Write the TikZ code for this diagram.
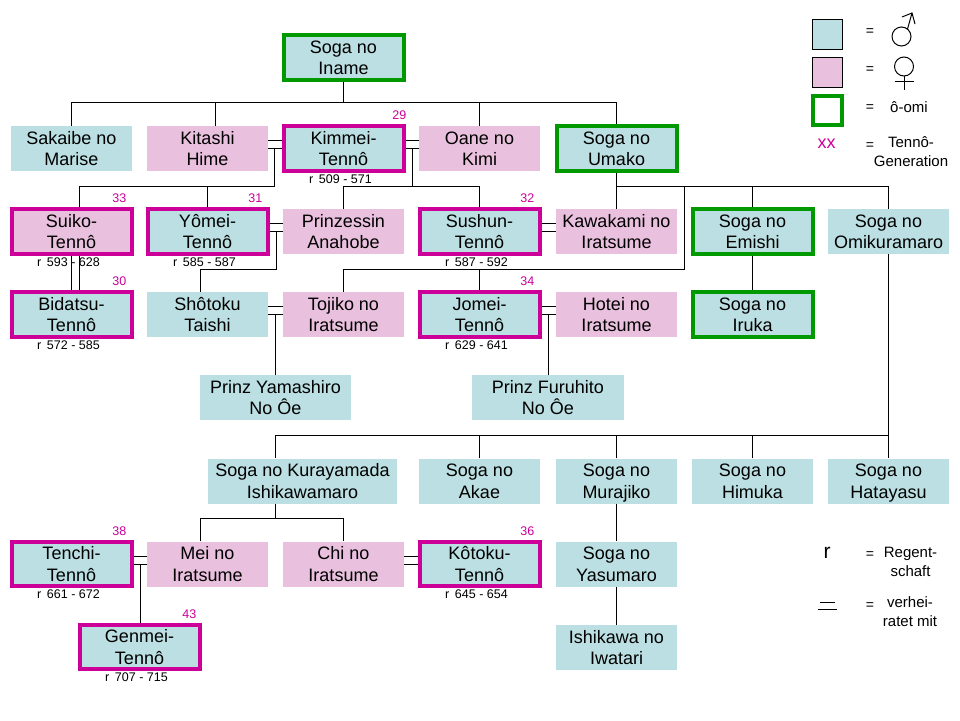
\documentclass[tikz,border=0pt]{standalone}
\usepackage{fontspec}
\setmainfont{Liberation Sans}
\usetikzlibrary{calc}
\definecolor{cy}{RGB}{187,223,226}
\definecolor{pk}{RGB}{233,192,221}
\definecolor{mg}{RGB}{204,0,153}
\definecolor{gn}{RGB}{0,153,0}
\newcommand\wed[2]{%
  \draw[link] ([yshift=8pt]#1.east) -- ([yshift=8pt]#2.west);
  \draw[link] (#1.east) -- (#2.west);}
\begin{document}
\begin{tikzpicture}[x=1pt,y=-1pt,
  every node/.style={inner sep=0pt},
  person/.style={rectangle, align=center, font=\fontsize{18}{21.5}\selectfont,
    text height=34.5pt, text depth=0pt,
    minimum width=121pt, minimum height=45pt},
  male/.style={person, fill=cy},
  female/.style={person, fill=pk},
  tenno/.style={draw=mg, line width=4pt, minimum width=120pt, minimum height=44.5pt},
  omi/.style={draw=gn, line width=4pt, minimum width=120pt, minimum height=44.5pt},
  gen/.style={text=mg, font=\fontsize{12.5}{14}\selectfont, anchor=south east},
  reign/.style={font=\fontsize{12.5}{14}\selectfont, anchor=north},
  link/.style={line width=1pt},
  lgd/.style={font=\fontsize{15}{19}\selectfont, align=center},
  eq/.style={font=\fontsize{14}{16}\selectfont},
  sym/.style={line width=1pt}
]
\useasboundingbox (0,0) rectangle (960,720);

% ---------- persons ----------
\node[male, omi] (iname) at (343.5,57.5) {Soga no\\Iname};

\node[male] (sakaibe) at (71.5,148.5) {Sakaibe no\\Marise};
\node[female] (kitashi) at (207.5,148.5) {Kitashi\\Hime};
\node[male, tenno] (kimmei) at (343.5,148.5) {Kimmei-\\Tennô};
\node[female] (oane) at (479.5,148.5) {Oane no\\Kimi};
\node[male, omi] (umako) at (616.5,148.5) {Soga no\\Umako};

\node[female, tenno] (suiko) at (71.5,231.5) {Suiko-\\Tennô};
\node[male, tenno] (yomei) at (207.5,231.5) {Yômei-\\Tennô};
\node[female] (anahobe) at (343.5,231.5) {Prinzessin\\Anahobe};
\node[male, tenno] (sushun) at (479.5,231.5) {Sushun-\\Tennô};
\node[female] (kawakami) at (616.5,231.5) {Kawakami no\\Iratsume};
\node[male, omi] (emishi) at (752.5,231.5) {Soga no\\Emishi};
\node[male] (omikuramaro) at (888.5,231.5) {Soga no\\Omikuramaro};

\node[male, tenno] (bidatsu) at (71.5,314.5) {Bidatsu-\\Tennô};
\node[male] (shotoku) at (207.5,314.5) {Shôtoku\\Taishi};
\node[female] (tojiko) at (343.5,314.5) {Tojiko no\\Iratsume};
\node[male, tenno] (jomei) at (479.5,314.5) {Jomei-\\Tennô};
\node[female] (hotei) at (616.5,314.5) {Hotei no\\Iratsume};
\node[male, omi] (iruka) at (752.5,314.5) {Soga no\\Iruka};

\node[male, minimum width=151pt] (yamashiro) at (275.5,397.5) {Prinz Yamashiro\\No Ôe};
\node[male, minimum width=152pt] (furuhito) at (548,397.5) {Prinz Furuhito\\No Ôe};

\node[male, minimum width=189pt] (kurayamada) at (302.5,481) {Soga no Kurayamada\\Ishikawamaro};
\node[male] (akae) at (479.5,481) {Soga no\\Akae};
\node[male] (murajiko) at (616.5,481) {Soga no\\Murajiko};
\node[male] (himuka) at (752.5,481) {Soga no\\Himuka};
\node[male] (hatayasu) at (888.5,481) {Soga no\\Hatayasu};

\node[male, tenno] (tenchi) at (71.5,564) {Tenchi-\\Tennô};
\node[female] (mei) at (207.5,564) {Mei no\\Iratsume};
\node[female] (chi) at (343.5,564) {Chi no\\Iratsume};
\node[male, tenno] (kotoku) at (479.5,564) {Kôtoku-\\Tennô};
\node[male] (yasumaro) at (616.5,564) {Soga no\\Yasumaro};

\node[male, tenno] (genmei) at (139.5,647) {Genmei-\\Tennô};
\node[male] (iwatari) at (616.5,647.5) {Ishikawa no\\Iwatari};

% ---------- generation numbers ----------
\node[gen] (g29) at ([xshift=1pt,yshift=4pt]kimmei.north east) {29};
\node[gen] (g33) at ([xshift=-7pt,yshift=4pt]suiko.north east) {33};
\node[gen] (g31) at ([xshift=-7pt,yshift=4pt]yomei.north east) {31};
\node[gen] (g32) at ([xshift=-7pt,yshift=4pt]sushun.north east) {32};
\node[gen] (g30) at ([xshift=-7pt,yshift=4pt]bidatsu.north east) {30};
\node[gen] (g34) at ([xshift=-7pt,yshift=4pt]jomei.north east) {34};
\node[gen] (g38) at ([xshift=-7pt,yshift=4pt]tenchi.north east) {38};
\node[gen] (g36) at ([xshift=-7pt,yshift=4pt]kotoku.north east) {36};
\node[gen] (g43) at ([xshift=-5pt,yshift=4pt]genmei.north east) {43};

% ---------- reigns ----------
\node[reign] (r29) at ([xshift=-3pt,yshift=-1.5pt]kimmei.south) {r\, 509 - 571};
\node[reign] (r33) at ([xshift=-3pt,yshift=-1.5pt]suiko.south) {r\, 593 - 628};
\node[reign] (r31) at ([xshift=-3pt,yshift=-1.5pt]yomei.south) {r\, 585 - 587};
\node[reign] (r32) at ([xshift=-3pt,yshift=-1.5pt]sushun.south) {r\, 587 - 592};
\node[reign] (r30) at ([xshift=-3pt,yshift=-1.5pt]bidatsu.south) {r\, 572 - 585};
\node[reign] (r34) at ([xshift=-3pt,yshift=-1.5pt]jomei.south) {r\, 629 - 641};
\node[reign] (r38) at ([xshift=-3pt,yshift=-1.5pt]tenchi.south) {r\, 661 - 672};
\node[reign] (r36) at ([xshift=-3pt,yshift=-1.5pt]kotoku.south) {r\, 645 - 654};
\node[reign] (r43) at ([xshift=-3pt,yshift=-1.5pt]genmei.south) {r\, 707 - 715};

% ---------- levels ----------
\coordinate (y102) at (0,102);
\coordinate (y186) at (0,186.5);
\coordinate (y269) at (0,269);
\coordinate (y435) at (0,435);
\coordinate (y518) at (0,518);

% ---------- Iname's children ----------
\draw[link] (iname.south) -- (iname.south |- y102);
\draw[link] (sakaibe.north) -- (sakaibe.north |- y102) -- (umako.north |- y102) -- (umako.north);
\coordinate (kh) at ([xshift=7.5pt]kitashi.north);
\draw[link] (kh) -- (kh |- y102);
\draw[link] (oane.north) -- (oane.north |- y102);

% ---------- marriages ----------
\wed{kitashi}{kimmei}
\wed{kimmei}{oane}
\wed{yomei}{anahobe}
\wed{sushun}{kawakami}
\wed{shotoku}{tojiko}
\wed{jomei}{hotei}
\wed{tenchi}{mei}
\wed{chi}{kotoku}
\coordinate (sk) at ([xshift=7.5pt]suiko.south);
\coordinate (bk) at ([xshift=7.5pt]bidatsu.north);
\draw[link] (suiko.south) -- (bidatsu.north);
\draw[link] (sk) -- (bk);

% ---------- Kitashi + Kimmei ----------
\coordinate (m1) at ($(kitashi.east)!0.5!(kimmei.west)$);
\coordinate (sn) at ([xshift=7.5pt]suiko.north);
\draw[link] (m1) -- (m1 |- y186) -- (sn |- y186) -- (sn);
\draw[link] (yomei.north) -- (yomei.north |- y186);

% ---------- Kimmei + Oane ----------
\coordinate (m2) at ($(kimmei.east)!0.5!(oane.west)$);
\draw[link] (m2) -- (m2 |- y186);
\draw[link] (anahobe.north) -- (anahobe.north |- y186) -- (sushun.north |- y186) -- (sushun.north);

% ---------- Umako ----------
\draw[link] (umako.south) -- (kawakami.north);
\draw[link] (umako.south |- y186) -- (omikuramaro.north |- y186) -- (omikuramaro.north);
\draw[link] (emishi.north) -- (emishi.north |- y186);
\coordinate (u1) at (684,186.5);
\draw[link] (u1) -- (u1 |- y269) -- (tojiko.north |- y269) -- (tojiko.north);
\draw[link] (jomei.north) -- (jomei.north |- y269);

% ---------- Yomei + Anahobe ----------
\coordinate (m3) at ($(yomei.east)!0.5!(anahobe.west)$);
\coordinate (shn) at ([xshift=-7.5pt]shotoku.north);
\draw[link] (m3) -- (m3 |- y269) -- (shn |- y269) -- (shn);

% ---------- third row children ----------
\coordinate (m4) at ($(shotoku.east)!0.5!(tojiko.west)$);
\draw[link] (m4) -- (m4 |- yamashiro.north);
\coordinate (m5) at ($(jomei.east)!0.5!(hotei.west)$);
\draw[link] (m5) -- (m5 |- furuhito.north);
\draw[link] (emishi.south) -- (iruka.north);

% ---------- Omikuramaro ----------
\draw[link] (omikuramaro.south) -- (hatayasu.north);
\coordinate (kn) at ([xshift=-27.5pt]kurayamada.north);
\draw[link] (kn) -- (kn |- y435) -- (omikuramaro.south |- y435);
\draw[link] (akae.north) -- (akae.north |- y435);
\draw[link] (murajiko.north) -- (murajiko.north |- y435);
\draw[link] (himuka.north) -- (himuka.north |- y435);

% ---------- Kurayamada ----------
\coordinate (ks) at ([xshift=-27.5pt]kurayamada.south);
\coordinate (mn) at ([xshift=-7.5pt]mei.north);
\draw[link] (ks) -- (ks |- y518);
\draw[link] (mn) -- (mn |- y518) -- (chi.north |- y518) -- (chi.north);

% ---------- Tenchi + Mei ----------
\coordinate (m6) at ($(tenchi.east)!0.5!(mei.west)$);
\draw[link] (m6) -- (m6 |- genmei.north);

% ---------- Murajiko line ----------
\draw[link] (murajiko.south) -- (yasumaro.north);
\draw[link] (yasumaro.south) -- (iwatari.north);

% ---------- legend ----------
\node[draw, fill=cy, line width=0.8pt, minimum size=30pt] (lm) at (827,34) {};
\node[draw, fill=pk, line width=0.8pt, minimum size=30pt] (lf) at (827,72) {};
\node[draw=gn, fill=white, line width=4pt, minimum size=29pt] (lo) at (827.5,110.5) {};
\node[text=mg, font=\fontsize{18}{20}\selectfont] (lxx) at (826.5,144) {xx};
\node[eq] (e1) at (870,32) {=};
\node[eq] (e2) at (870,70) {=};
\node[eq] (e3) at (870,108) {=};
\node[eq] (e4) at (870,146) {=};
% male symbol
\draw[sym] (901.5,36.5) circle[radius=9.5];
\draw[sym] (907.5,29) -- (912,13);
\draw[sym] (902,17) -- (912,13) -- (915,24);
% female symbol
\draw[sym] (904,66.5) circle[radius=9.5];
\draw[sym] (904,76) -- (904,90);
\draw[sym] (894.5,81) -- (913.5,81);
\node[lgd, anchor=west] (lomi) at (890,107) {ô-omi};
\node[lgd] (lgen) at (911,151.5) {Tennô-\\Generation};

\node[font=\fontsize{21}{22}\selectfont] (lr) at (827,553) {r};
\node[eq] (e5) at (870,555) {=};
\node[lgd] (lreg) at (910.5,561.5) {Regent-\\schaft};
\coordinate (ma) at (820,602);
\coordinate (mb) at (835,602);
\coordinate (mc) at (818,609);
\coordinate (md) at (837,609);
\draw[link] (ma) -- (mb);
\draw[link] (mc) -- (md);
\node[eq] (e6) at (870,606) {=};
\node[lgd] (lver) at (910,612) {verhei-\\ratet mit};
\end{tikzpicture}
\end{document}
